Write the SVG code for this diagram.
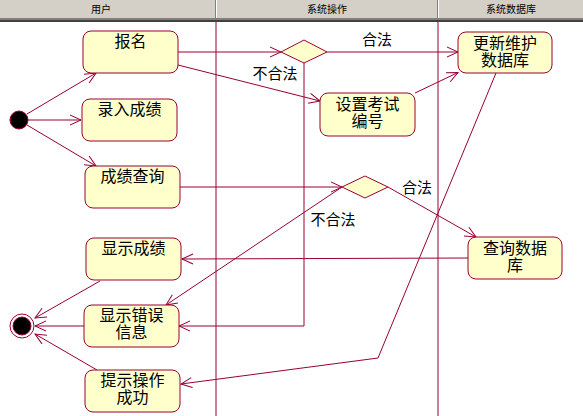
<svg xmlns="http://www.w3.org/2000/svg" width="583" height="416" viewBox="0 0 583 416">
<style>
.box{fill:#ffffcc;stroke:#990033;stroke-width:1}
.t{font-family:"Noto Sans CJK SC","Noto Sans CJK JP",sans-serif;font-size:16px;fill:#000;text-anchor:middle}
.lbl{font-family:"Noto Sans CJK SC","Noto Sans CJK JP",sans-serif;font-size:15px;fill:#000;text-anchor:middle}
.hd{font-family:"Noto Sans CJK SC","Noto Sans CJK JP",sans-serif;font-size:10px;fill:#000;text-anchor:middle}
.c{fill:none;stroke:#990033;stroke-width:1;marker-end:url(#arr)}
.lane{stroke:#990033;stroke-width:1}
</style>
<defs>
<marker id="arr" markerUnits="userSpaceOnUse" markerWidth="14" markerHeight="14" viewBox="0 0 14 14" refX="12" refY="7" orient="auto">
<path d="M1,2 L12,7 L1,12" fill="none" stroke="#990033" stroke-width="1"/>
</marker>
</defs>
<rect x="0" y="0" width="583" height="416" fill="#ffffff"/>
<g id="header">
<rect x="0" y="0" width="583" height="18" fill="#d4d0c8"/>
<rect x="0" y="18" width="583" height="2" fill="#808080"/>
<rect x="0" y="20" width="583" height="2" fill="#404040"/>
<line x1="215.5" y1="0" x2="215.5" y2="18" stroke="#808080"/>
<line x1="216.5" y1="0" x2="216.5" y2="18" stroke="#ffffff"/>
<line x1="437.5" y1="0" x2="437.5" y2="18" stroke="#808080"/>
<line x1="438.5" y1="0" x2="438.5" y2="18" stroke="#ffffff"/>
<text class="hd" x="101" y="13">用户</text>
<text class="hd" x="327" y="13">系统操作</text>
<text class="hd" x="511" y="13">系统数据库</text>
</g>
<g id="lanes">
<line class="lane" x1="216" y1="22" x2="216" y2="416"/>
<line class="lane" x1="438" y1="22" x2="438" y2="416"/>
</g>
<g id="connectors">
<path class="c" d="M27,114 L96,73"/>
<path class="c" d="M28,120 L81,120"/>
<path class="c" d="M27,125 L96,166"/>
<path class="c" d="M178,52 L281,52"/>
<path class="c" d="M178,65 L320,101"/>
<path class="c" d="M327,52 L458,52"/>
<path class="c" d="M415,93 L458,72.5"/>
<path class="c" d="M304,63 L304,326 L179,326"/>
<path class="c" d="M180,187 L342,187"/>
<path class="c" d="M388,187 L476,237"/>
<path class="c" d="M342,187 L166,305"/>
<path class="c" d="M468,258 L182,259"/>
<path class="c" d="M496,73 L378,358 L181,384"/>
<path class="c" d="M100,281 L35,318"/>
<path class="c" d="M84,326 L35,326"/>
<path class="c" d="M97,370 L35,334"/>
<text class="lbl" x="377" y="45">合法</text>
<text class="lbl" x="275" y="79">不合法</text>
<text class="lbl" x="417" y="193">合法</text>
<text class="lbl" x="333" y="225">不合法</text>
</g>
<g id="start">
<circle cx="19" cy="120" r="9" fill="#000" stroke="#990033"/>
</g>
<g id="end">
<circle cx="22" cy="326" r="12" fill="#fff" stroke="#990033"/>
<circle cx="22" cy="326" r="9" fill="#000" stroke="#990033"/>
</g>
<g id="baoming">
<rect class="box" x="83" y="31" width="95" height="42" rx="8"/>
<text class="t" x="130.5" y="47">报名</text>
</g>
<g id="luru">
<rect class="box" x="82" y="99" width="95" height="42" rx="8"/>
<text class="t" x="129.5" y="115">录入成绩</text>
</g>
<g id="chaxun">
<rect class="box" x="85" y="166" width="95" height="42" rx="8"/>
<text class="t" x="132.5" y="182">成绩查询</text>
</g>
<g id="xianshi">
<rect class="box" x="86" y="238" width="95" height="42" rx="8"/>
<text class="t" x="133.5" y="254">显示成绩</text>
</g>
<g id="cuowu">
<rect class="box" x="84" y="305" width="95" height="42" rx="8"/>
<text class="t" x="131.5" y="321">显示错误<tspan x="131.5" dy="17">信息</tspan></text>
</g>
<g id="tishi">
<rect class="box" x="85" y="370" width="95" height="42" rx="8"/>
<text class="t" x="132.5" y="386">提示操作<tspan x="132.5" dy="17">成功</tspan></text>
</g>
<g id="decision1">
<polygon points="281,52 304,40 327,52 304,63" fill="#ffffcc" stroke="#990033"/>
</g>
<g id="shezhi">
<rect class="box" x="320" y="93" width="95" height="43" rx="8"/>
<text class="t" x="367.5" y="110">设置考试<tspan x="367.5" dy="17">编号</tspan></text>
</g>
<g id="decision2">
<polygon points="342,187 365,176 388,187 365,198" fill="#ffffcc" stroke="#990033"/>
</g>
<g id="gengxin">
<rect class="box" x="458" y="32" width="94" height="41" rx="8"/>
<text class="t" x="505" y="49">更新维护<tspan x="505" dy="17">数据库</tspan></text>
</g>
<g id="chaxunsjk">
<rect class="box" x="468" y="237" width="94" height="42" rx="8"/>
<text class="t" x="515" y="254">查询数据<tspan x="515" dy="17">库</tspan></text>
</g>
</svg>
